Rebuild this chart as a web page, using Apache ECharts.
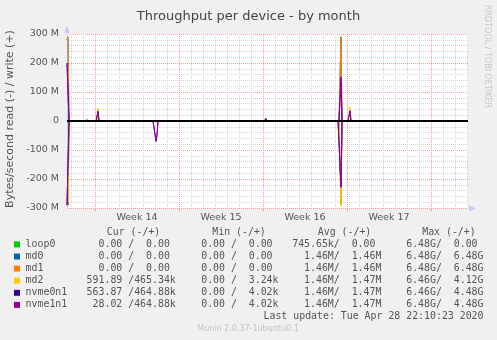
<!DOCTYPE html>
<html><head><meta charset="utf-8">
<script src="https://cdn.jsdelivr.net/npm/echarts@6/dist/echarts.min.js"></script>
<style>html,body{margin:0;padding:0;background:#f0f0f0}#c{width:497px;height:340px}</style>
</head><body><div id="c"></div>
<script>
// ---- data ----
const sampleCount = 402;             // one sample per 2 hours
const weekLabels = ['Week 14', 'Week 15', 'Week 16', 'Week 17'];
const weekLabelIdx = [70, 154, 238, 322];
const weekLineIdx = [28, 112, 196, 280, 364];
const yTicks = [-300, -200, -100, 0, 100, 200, 300];

const devices = ['loop0', 'md0', 'md1', 'md2', 'nvme0n1', 'nvme1n1'];
const colors = ['#00cc00', '#0066b3', '#ff8000', '#ffcc00', '#330099', '#990099'];

// spikes as [sample index, MB/s]; everything else is 0
const loop0Read  = [[0, -280], [1, -290]];
const loop0Write = [];
const md0Read    = [[0, -280], [1, -290], [274, -290]];
const md0Write   = [[0, 280], [1, 290], [274, 290]];
const md1Read    = [[0, -280], [1, -290], [274, -290]];
const md1Write   = [[0, 280], [1, 290], [274, 290]];
const md2Read    = [[0, -270], [1, -280], [274, -293]];
const md2Write   = [[31, 45], [115, 3], [199, 9], [274, 145], [283, 49]];
const nvme0n1Read  = [[0, -290], [1, -293], [89, -70], [90, -50], [274, -228]];
const nvme0n1Write = [[0, 200], [1, 205], [19, 2], [20, 3], [21, 2], [31, 33], [168, 5], [199, 8], [274, 150], [283, 35]];
const nvme1n1Read  = [[0, -290], [1, -293], [89, -70], [90, -50], [274, -228]];
const nvme1n1Write = [[0, 200], [1, 205], [19, 2], [20, 3], [21, 2], [31, 33], [168, 5], [199, 8], [274, 150], [283, 35]];

const readSpikes  = [loop0Read, md0Read, md1Read, md2Read, nvme0n1Read, nvme1n1Read];
const writeSpikes = [loop0Write, md0Write, md1Write, md2Write, nvme0n1Write, nvme1n1Write];

const legendHeader = ['Cur (-/+)', 'Min (-/+)', 'Avg (-/+)', 'Max (-/+)'];
const curVals = ['  0.00 /  0.00 ', '  0.00 /  0.00 ', '  0.00 /  0.00 ', '591.89 /465.34k', '563.87 /464.88k', ' 28.02 /464.88k'];
const minVals = ['  0.00 /  0.00 ', '  0.00 /  0.00 ', '  0.00 /  0.00 ', '  0.00 /  3.24k', '  0.00 /  4.02k', '  0.00 /  4.02k'];
const avgVals = ['745.65k/  0.00 ', '  1.46M/  1.46M', '  1.46M/  1.46M', '  1.46M/  1.47M', '  1.46M/  1.47M', '  1.46M/  1.47M'];
const maxVals = ['  6.48G/  0.00 ', '  6.48G/  6.48G', '  6.48G/  6.48G', '  6.46G/  4.12G', '  6.46G/  4.48G', '  6.48G/  4.48G'];
const lastUpdate = 'Last update: Tue Apr 28 22:10:23 2020';

// ---- build ----
const cats = Array.from({length: sampleCount}, (_, i) => i);
function build(spikes) {
  const d = new Array(sampleCount).fill(0);
  spikes.forEach(([i, v]) => { d[i] = v; });
  return d;
}
const series = [];
devices.forEach((name, k) => {
  series.push({type: 'line', name: name + ' read', data: build(readSpikes[k]), symbol: 'none',
    lineStyle: {width: 1, color: colors[k]}, itemStyle: {color: colors[k]}});
  series.push({type: 'line', name: name, data: build(writeSpikes[k]), symbol: 'none',
    lineStyle: {width: 1, color: colors[k]}, itemStyle: {color: colors[k]}});
});
series[series.length - 1].markLine = {silent: true, symbol: 'none', label: {show: false},
  lineStyle: {color: '#000', width: 2, type: 'solid'}, data: [{yAxis: 0}], animation: false};

const mono = 'DejaVu Sans Mono';
const txtCol = '#555';
const g = [];
g.push({type: 'text', x: 10.5, y: 119, rotation: Math.PI / 2,
  style: {text: 'Bytes/second read (-) / write (+)', font: '11px "DejaVu Sans"', fill: txtCol, align: 'center', verticalAlign: 'middle'}});
g.push({type: 'text', x: 487, y: 5, rotation: -Math.PI / 2,
  style: {text: 'RRDTOOL / TOBI OETIKER', font: '8px "DejaVu Sans"', fill: '#c8c8c8', align: 'left', verticalAlign: 'middle'}});
g.push({type: 'polygon', shape: {points: [[64, 33], [70, 33], [67, 26]]}, style: {fill: '#c8c8f4'}});
g.push({type: 'polygon', shape: {points: [[469, 205.5], [469, 211.5], [476, 208.5]]}, style: {fill: '#c8c8f4'}});
const hdrX = [106.8, 212.3, 317.8, 422.2];
legendHeader.forEach((t, j) => g.push({type: 'text', x: hdrX[j], y: 232.7,
  style: {text: t, font: '9.9px "' + mono + '"', fill: txtCol, align: 'left', verticalAlign: 'middle'}}));
const cellX = [86.6, 189.3, 292.2, 394.3];
const cols = [curVals, minVals, avgVals, maxVals];
devices.forEach((name, k) => {
  const y = 244.4 + k * 12.1;
  g.push({type: 'rect', shape: {x: 14, y: y - 3, width: 6, height: 6}, style: {fill: colors[k]}});
  g.push({type: 'text', x: 25.6, y: y, style: {text: name, font: '9.9px "' + mono + '"', fill: txtCol, align: 'left', verticalAlign: 'middle'}});
  cols.forEach((arr, j) => g.push({type: 'text', x: cellX[j], y: y,
    style: {text: arr[k], font: '9.9px "' + mono + '"', fill: txtCol, align: 'left', verticalAlign: 'middle'}}));
});
g.push({type: 'text', x: 483.5, y: 316.8, style: {text: lastUpdate, font: '9.9px "' + mono + '"', fill: txtCol, align: 'right', verticalAlign: 'middle'}});
g.push({type: 'text', x: 248, y: 328.7, style: {text: 'Munin 2.0.37-1ubuntu0.1', font: '8px "DejaVu Sans"', fill: '#c4c4c4', align: 'center', verticalAlign: 'middle'}});

const chart = echarts.init(document.getElementById('c'), null, {renderer: 'canvas'});
chart.setOption({
  animation: false,
  backgroundColor: '#f0f0f0',
  title: {text: 'Throughput per device - by month', left: 'center', top: 5,
    textStyle: {fontFamily: 'DejaVu Sans', fontSize: 13, fontWeight: 'normal', color: '#444'}},
  grid: {left: 67, top: 34, width: 401, height: 174, show: true, backgroundColor: '#fff', borderWidth: 0},
  xAxis: [{
    type: 'category', data: cats, boundaryGap: false,
    axisLine: {show: true, lineStyle: {color: '#c8c8f4', width: 1}},
    axisTick: {show: false}, axisLabel: {show: false},
    splitLine: {show: true, interval: (i) => (i % 12 === 4) && weekLineIdx.indexOf(i) < 0,
      lineStyle: {color: '#d4d4d4', type: [1, 1], width: 1}}
  }, {
    type: 'category', data: cats, boundaryGap: false, position: 'bottom',
    axisLine: {show: false},
    axisTick: {show: true, interval: (i) => weekLineIdx.indexOf(i) >= 0, inside: false, length: 3,
      lineStyle: {color: '#ff9a9a'}},
    axisLabel: {show: true, interval: (i) => weekLabelIdx.indexOf(i) >= 0, margin: 5,
      formatter: (v) => { const j = weekLabelIdx.indexOf(Number(v)); return j >= 0 ? weekLabels[j] : ''; },
      fontFamily: 'DejaVu Sans', fontSize: 9.5, color: txtCol},
    splitLine: {show: true, interval: (i) => weekLineIdx.indexOf(i) >= 0,
      lineStyle: {color: '#ff9a9a', type: [1, 1], width: 1}}
  }],
  yAxis: {
    type: 'value', min: yTicks[0], max: yTicks[yTicks.length - 1], interval: 100,
    axisLine: {show: true, lineStyle: {color: '#c8c8f4'}},
    axisTick: {show: false},
    axisLabel: {margin: 8, fontFamily: 'DejaVu Sans', fontSize: 9.5, color: txtCol,
      formatter: (v) => v === 0 ? '0' : v + ' M'},
    splitLine: {show: true, lineStyle: {color: '#ff9a9a', type: [1, 1], width: 1}},
    minorTick: {show: false, splitNumber: 5},
    minorSplitLine: {show: true, lineStyle: {color: '#d4d4d4', type: [1, 1], width: 1}}
  },
  series: series,
  graphic: g
});
</script></body></html>
